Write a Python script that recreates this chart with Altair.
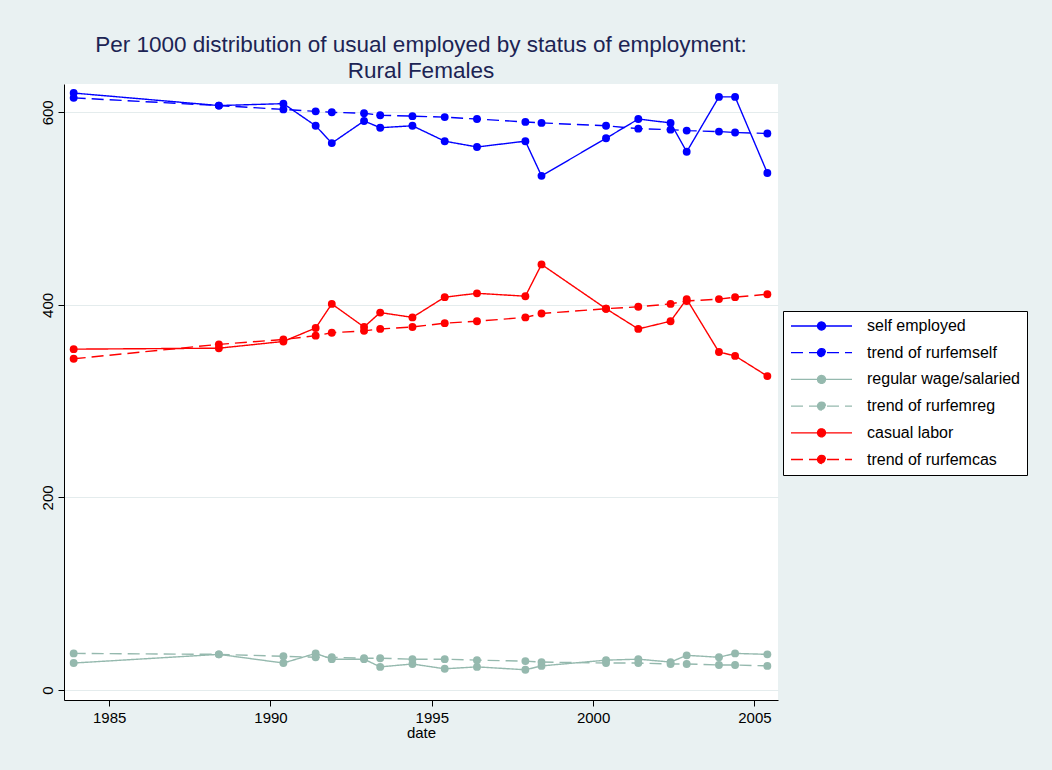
import altair as alt
import pandas as pd

# --- data ---
dates = [1983.9, 1988.4, 1990.4, 1991.4, 1991.9, 1992.9, 1993.4, 1994.4, 1995.4,
         1996.4, 1997.9, 1998.4, 2000.4, 2001.4, 2002.4, 2002.9, 2003.9, 2004.4, 2005.4]
self_emp = [620, 607, 609, 586, 568, 591, 584, 586, 570, 564, 570, 534, 573, 593, 589, 559, 616, 616, 537]
trend_self = [615, 607, 603, 601, 600, 599, 597, 596, 595, 593, 590, 589, 586, 583, 582, 581, 580, 579, 578]
regular = [28, 37, 28, 38, 32, 32, 24, 27, 22, 24, 21, 25, 31, 32, 29, 36, 34, 38, 37]
trend_reg = [38, 37, 35, 34, 34, 33, 33, 32, 32, 31, 30, 29, 28, 28, 27, 27, 26, 26, 25]
casual = [354, 355, 362, 376, 401, 377, 392, 387, 408, 412, 409, 442, 396, 375, 383, 406, 351, 347, 326]
trend_cas = [344, 359, 364, 368, 371, 373, 375, 377, 381, 383, 387, 391, 396, 398, 401, 404, 406, 408, 411]

series_names = ["self employed", "trend of rurfemself", "regular wage/salaried",
                "trend of rurfemreg", "casual labor", "trend of rurfemcas"]
series_values = [self_emp, trend_self, regular, trend_reg, casual, trend_cas]
series_colors = ["#0000ff", "#0000ff", "#95b9ae", "#95b9ae", "#ff0000", "#ff0000"]
series_dash = [[1, 0], [12, 6], [1, 0], [12, 6], [1, 0], [12, 6]]
x_ticks = [1985, 1990, 1995, 2000, 2005]
y_ticks = [0, 200, 400, 600]

rows = []
for name, vals in zip(series_names, series_values):
    for d, v in zip(dates, vals):
        rows.append({"date": d, "value": v, "series": name})
df = pd.DataFrame(rows)

FONT = "Liberation Sans"

legend = alt.Legend(
    title=None, orient="none", legendX=719, legendY=227,
    fillColor="white", strokeColor="black", padding=7,
    labelFont=FONT, labelFontSize=16, labelColor="black", labelOffset=14,
    symbolType="M-1,0H1M-0.131,0A0.131,0.131,0,1,1,0.131,0A0.131,0.131,0,1,1,-0.131,0Z",
    symbolSize=3721, symbolStrokeWidth=1.3, clipHeight=16, rowPadding=10.7,
)

x = alt.X("date:Q",
          scale=alt.Scale(domain=[1983.6, 2005.73], nice=False, zero=False),
          axis=alt.Axis(values=x_ticks, format="d", title="date", grid=False,
                        labelFont=FONT, labelFontSize=15, labelColor="black",
                        titleFont=FONT, titleFontSize=15, titleFontWeight="normal",
                        titleColor="black", titlePadding=0,
                        tickSize=6, tickColor="black", domainColor="black",
                        labelPadding=4))
y = alt.Y("value:Q",
          scale=alt.Scale(domain=[-10.4, 629.4], nice=False, zero=False),
          axis=alt.Axis(values=y_ticks, title=None, grid=True, gridColor="#e4eced",
                        gridWidth=1.2,
                        labelFont=FONT, labelFontSize=15, labelColor="black",
                        labelAngle=270, labelAlign="center", labelBaseline="alphabetic",
                        labelPadding=6, tickSize=6, tickColor="black",
                        domainColor="black"))

stroke_scale = alt.Scale(domain=series_names, range=series_colors)
dash_scale = alt.Scale(domain=series_names, range=series_dash)

lines = alt.Chart(df).mark_line(strokeWidth=1.4).encode(
    x=x, y=y,
    stroke=alt.Stroke("series:N", scale=stroke_scale, legend=legend, sort=series_names),
    strokeDash=alt.StrokeDash("series:N", scale=dash_scale, legend=legend, sort=series_names),
)
points = alt.Chart(df).mark_point(filled=True, size=62, opacity=1).encode(
    x=x, y=y,
    fill=alt.Fill("series:N", scale=stroke_scale, legend=legend, sort=series_names),
)

chart = alt.layer(lines, points).properties(
    width=714, height=616,
    autosize=alt.AutoSizeParams(type="none"),
    padding={"left": 64, "top": 84, "right": 274, "bottom": 70},
    title=alt.Title(
        ["Per 1000 distribution of usual employed by status of employment:", "Rural Females"],
        font=FONT, fontSize=22.5, fontWeight="normal", color="#1c2454",
        anchor="middle", offset=2, lineHeight=26,
    ),
    background="#e9f1f2",
).configure_view(stroke=None, fill="white")

chart.save("out.html", embed_options={"renderer": "svg", "actions": False})
